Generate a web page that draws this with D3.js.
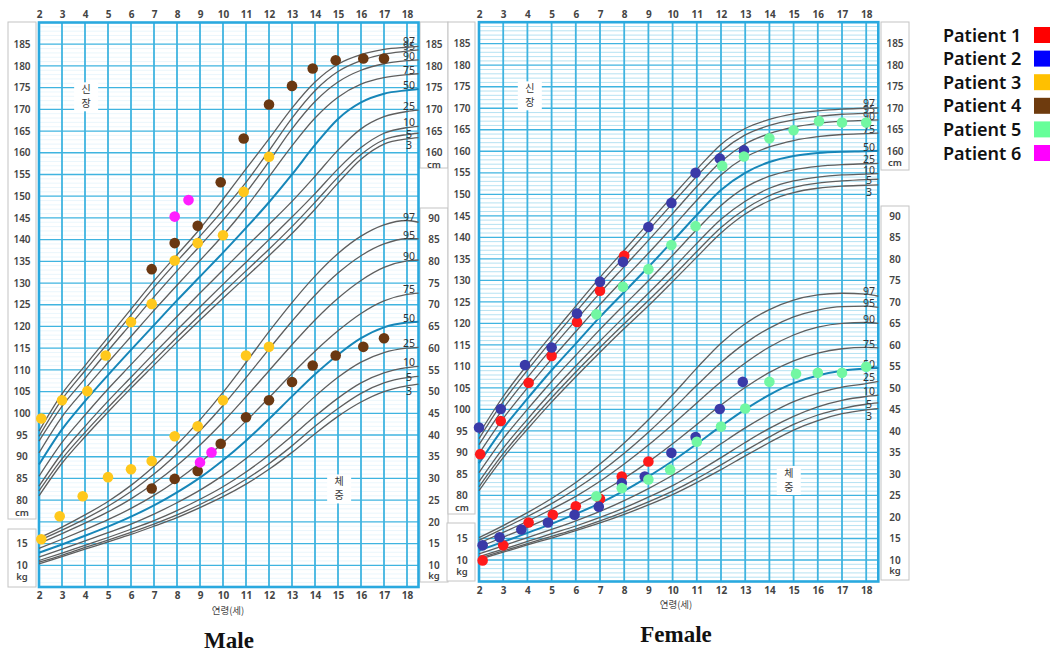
<!DOCTYPE html>
<html><head><meta charset="utf-8">
<script src="https://cdn.jsdelivr.net/npm/d3@7"></script>
<style>body{margin:0;background:#fff}svg{display:block}</style>
</head><body>
<svg id="c" width="1056" height="653"></svg>
<script>
// ---------- DATA ----------
const ages = [2,3,4,5,6,7,8,9,10,11,12,13,14,15,16,17,18,18.5];
const xTicks = [2,3,4,5,6,7,8,9,10,11,12,13,14,15,16,17,18];
const pctNames = ["3","5","10","25","50","75","90","95","97"];

// Male height percentiles (cm)
const mH3  = [81.0,88.5,94.6,100.3,105.8,111.1,116.4,121.5,126.5,131.4,136.3,141.4,147.0,153.0,158.5,162.0,163.2,163.5];
const mH5  = [82.1,89.5,95.6,101.3,106.8,112.2,117.5,122.7,127.8,132.8,137.8,143.0,148.6,154.4,159.6,163.0,164.2,164.5];
const mH10 = [83.2,90.8,97.0,102.8,108.3,113.8,119.2,124.5,129.7,134.8,140.0,145.2,150.6,156.3,161.2,164.5,165.8,166.1];
const mH25 = [85.5,93.3,99.6,105.6,111.2,116.8,122.3,127.7,133.0,138.3,143.5,148.8,154.6,160.6,165.5,168.3,169.5,169.8];
const mH50 = [88.2,96.3,102.8,108.8,114.6,120.3,126.0,131.5,137.0,142.7,148.6,155.0,161.8,167.8,171.6,173.6,174.4,174.7];
const mH75 = [90.9,99.2,105.6,111.7,117.7,123.7,129.5,135.2,141.0,147.4,154.5,161.6,168.0,172.8,175.8,177.3,178.0,178.2];
const mH90 = [93.6,101.6,108.0,114.4,120.6,126.8,132.8,138.6,144.5,150.8,158.0,165.5,171.8,176.3,179.0,180.5,181.2,181.4];
const mH95 = [94.7,103.2,109.8,116.2,122.6,129.0,135.0,140.8,146.8,153.2,160.5,168.0,174.3,178.7,181.2,182.7,183.4,183.7];
const mH97 = [95.9,104.5,111.0,117.5,124.0,130.5,136.5,142.5,149.3,156.3,163.2,170.3,176.3,180.4,182.6,183.8,184.3,184.5];
// Male weight percentiles (kg)
const mW3  = [10.3,12.0,13.7,15.4,17.1,19.0,21.0,23.3,25.8,28.7,32.1,36.0,40.3,44.3,47.6,50.0,51.3,51.7];
const mW5  = [10.7,12.3,14.1,15.8,17.6,19.5,21.6,24.0,26.7,29.8,33.4,37.5,42.0,46.1,49.6,52.0,53.2,53.5];
const mW10 = [11.1,12.8,14.6,16.4,18.3,20.3,22.6,25.2,28.1,31.5,35.4,39.8,44.3,48.5,52.0,54.3,55.5,55.8];
const mW25 = [11.9,13.7,15.6,17.5,19.5,21.8,24.4,27.3,30.7,34.6,39.1,44.0,48.9,53.3,56.8,59.0,60.0,60.2];
const mW50 = [12.9,14.8,16.8,18.9,21.2,23.8,26.8,30.2,34.2,38.7,43.7,48.9,54.0,58.5,62.3,64.8,65.9,66.1];
const mW75 = [13.9,16.0,18.2,20.5,23.1,26.1,29.6,33.6,38.2,43.2,48.6,54.1,59.3,64.0,68.0,70.9,72.4,72.7];
const mW90 = [15.0,17.3,19.7,22.3,25.3,28.9,33.0,37.7,43.0,48.8,54.8,60.8,66.5,71.5,75.6,78.6,80.1,80.3];
const mW95 = [15.7,18.1,20.7,23.6,27.0,31.0,35.7,41.0,46.8,53.2,59.8,66.2,72.2,77.3,81.3,84.0,85.2,85.2];
const mW97 = [16.3,18.8,21.6,24.7,28.4,32.8,37.8,43.5,49.8,56.7,63.8,70.5,76.6,81.8,85.8,88.4,89.4,89.0];
// Female height percentiles (cm)
const fH3  = [81.1,88.8,95.4,101.7,107.6,113.3,118.8,124.1,129.7,135.4,141.0,145.4,148.5,150.4,151.4,151.9,152.1,152.2];
const fH5  = [82.0,89.7,96.4,102.7,108.7,114.4,119.9,125.3,130.9,136.7,142.3,146.6,149.7,151.6,152.6,153.1,153.4,153.5];
const fH10 = [83.2,91.0,97.7,104.1,110.1,115.9,121.5,127.0,132.7,138.6,144.2,148.4,151.4,153.1,154.0,154.5,154.7,154.8];
const fH25 = [85.3,93.2,100.0,106.5,112.6,118.6,124.3,129.9,135.8,141.8,147.4,151.6,154.2,155.7,156.5,156.9,157.1,157.2];
const fH50 = [87.5,95.6,102.5,109.1,115.3,121.5,127.3,133.1,139.1,145.2,151.0,155.0,157.5,158.9,159.6,159.9,160.0,160.1];
const fH75 = [89.7,97.9,105.0,111.7,118.1,124.4,130.4,136.3,142.4,148.6,154.5,158.6,161.0,162.5,163.4,163.9,164.1,164.2];
const fH90 = [91.8,100.2,107.4,114.2,120.7,127.1,133.2,139.3,145.5,151.8,157.6,161.7,164.1,165.6,166.5,167.0,167.2,167.3];
const fH95 = [93.2,101.8,109.1,116.0,122.6,129.2,135.4,141.6,147.9,154.2,159.9,163.8,166.0,167.3,168.1,168.6,168.8,168.9];
const fH97 = [94.3,103.0,110.4,117.3,124.0,130.7,137.0,143.3,149.6,155.8,161.6,165.3,167.4,168.7,169.4,169.8,170.0,170.1];
// Female weight percentiles (kg)
const fW3  = [10.1,11.8,13.5,15.1,16.8,18.6,20.6,22.8,25.2,28.0,31.0,34.2,37.3,40.2,42.4,44.0,44.9,45.2];
const fW5  = [10.4,12.1,13.8,15.5,17.2,19.1,21.2,23.5,26.0,28.9,32.1,35.4,38.6,41.5,43.7,45.2,46.2,46.5];
const fW10 = [10.8,12.5,14.3,16.1,17.9,19.9,22.1,24.6,27.3,30.4,33.8,37.3,40.6,43.4,45.6,47.1,48.0,48.3];
const fW25 = [11.4,13.3,15.2,17.1,19.1,21.3,23.8,26.6,29.7,33.2,37.0,40.7,44.0,46.8,48.8,50.2,51.0,51.5];
const fW50 = [12.2,14.2,16.3,18.4,20.7,23.2,26.1,29.4,33.0,37.0,41.1,45.0,48.4,51.1,52.9,54.0,54.5,54.6];
const fW75 = [13.0,15.3,17.6,20.0,22.6,25.6,29.0,32.8,37.0,41.5,46.0,50.1,53.6,56.3,58.1,59.1,59.4,59.3];
const fW90 = [13.9,16.4,19.0,21.8,24.8,28.3,32.3,36.7,41.5,46.5,51.4,55.8,59.5,62.3,64.1,65.0,65.2,65.0];
const fW95 = [14.6,17.3,20.1,23.1,26.5,30.4,34.8,39.7,45.0,50.6,55.9,60.4,63.9,66.5,68.1,68.9,69.0,68.7];
const fW97 = [15.2,18.0,21.0,24.3,28.0,32.3,37.2,42.6,48.4,54.6,60.4,64.9,68.2,70.4,71.6,72.0,71.8,71.3];

// Patients (age, value)
const p3MaleHeight = [[2.1,98.8],[3.0,103.0],[4.1,105.1],[4.9,113.3],[6.0,121.0],[6.9,125.2],[7.9,135.2],[8.9,139.2],[10.0,141.0],[10.9,151.0],[12.0,159.1]];
const p3MaleWeight = [[2.1,16.0],[2.9,21.3],[3.9,25.9],[5.0,30.3],[6.0,32.1],[6.9,34.0],[7.9,39.7],[8.9,42.0],[10.0,48.0],[11.0,58.3],[12.0,60.3]];
const p4MaleHeight = [[6.9,133.2],[7.9,139.2],[8.9,143.2],[9.9,153.2],[10.9,163.3],[12.0,171.1],[13.0,175.4],[13.9,179.4],[14.9,181.3],[16.1,181.7],[17.0,181.7]];
const p4MaleWeight = [[6.9,27.7],[7.9,29.9],[8.9,31.7],[9.9,38.0],[11.0,44.1],[12.0,48.0],[13.0,52.2],[13.9,56.0],[14.9,58.3],[16.1,60.3],[17.0,62.3]];
const p6MaleHeight = [[7.9,145.3],[8.5,149.1]];
const p6MaleWeight = [[9.0,33.7],[9.5,36.0]];
const p1FemaleHeight = [[2.05,89.6],[2.9,97.3],[4.05,106.2],[5.0,112.4],[6.05,120.3],[7.0,127.6],[8.0,135.7]];
const p1FemaleWeight = [[2.15,9.9],[3.0,13.4],[4.05,18.7],[5.05,20.5],[6.0,22.5],[7.0,24.2],[7.9,29.4],[9.0,32.9]];
const p2FemaleHeight = [[2.0,95.8],[2.9,100.1],[3.9,110.3],[5.0,114.4],[6.05,122.3],[7.0,129.7],[7.95,134.3],[9.0,142.4],[9.95,148.0],[10.95,155.0],[11.95,158.3],[12.95,160.2]];
const p2FemaleWeight = [[2.15,13.4],[2.85,15.3],[3.75,17.1],[4.85,18.7],[5.95,20.5],[6.95,22.4],[7.9,27.9],[8.85,29.4],[9.95,34.9],[10.95,38.6],[11.95,45.1],[12.9,51.4]];
const p5FemaleHeight = [[6.85,122.1],[7.95,128.5],[9.0,132.6],[9.95,138.2],[10.95,142.6],[12.05,156.6],[12.95,158.8],[14.0,163.0],[15.0,164.9],[16.05,167.0],[17.0,166.7],[18.0,166.7]];
const p5FemaleWeight = [[6.85,24.8],[7.9,26.7],[9.0,28.7],[9.9,31.0],[11.0,37.5],[12.0,41.0],[13.0,45.2],[14.0,51.4],[15.1,53.3],[16.0,53.5],[17.0,53.5],[18.0,54.9]];

const legendNames = ["Patient 1","Patient 2","Patient 3","Patient 4","Patient 5","Patient 6"];
const legendColors = ["#ff0000","#0000ff","#ffc000","#6e3b0e","#66ff99","#ff00ff"];
const dotColors = ["#ff1a1a","#3a3aa8","#ffc81c","#6a3812","#72f7a2","#ff1eff"];

// ---------- DRAW ----------
const svg = d3.select("#c");
const WEIGHT_OFFSET = 55; // weight axis 10 kg aligns with height axis 65 cm
const gridBlue = "#3fb4e0";
const numFont = "'Noto Sans', 'DejaVu Sans', sans-serif";
const krFont = "'Noto Sans CJK KR', sans-serif";
const labelShift = {"3": 11, "5": 5, "10": 0, "25": 0, "50": 0, "75": 0, "90": 0, "95": 0, "97": -1};

function chart(c) {
  const g = svg.append("g");
  const x = d3.scaleLinear().domain([2, 18.5]).range(c.xr);
  const y = d3.scaleLinear().domain([60, 190]).range(c.yr);
  const [x0, x1] = c.xr, [yb, yt] = c.yr;

  c.boxes.forEach(b => g.append("rect").attr("x", b[0]).attr("y", b[1]).attr("width", b[2]).attr("height", b[3])
    .attr("fill", "#fff").attr("stroke", "#c4c4c4").attr("stroke-width", 1));

  g.append("rect").attr("x", x0).attr("y", yt).attr("width", x1 - x0).attr("height", yb - yt).attr("fill", "#fff");
  const minor = d3.range(61, 190).filter(v => v % 5 !== 0);
  g.append("g").selectAll("line").data(minor).join("line")
    .attr("x1", x0).attr("x2", x1).attr("y1", d => y(d)).attr("y2", d => y(d))
    .attr("stroke", c.minorColor).attr("stroke-width", c.minorWidth);
  g.append("g").selectAll("line").data(d3.range(65, 190, 5)).join("line")
    .attr("x1", x0).attr("x2", x1).attr("y1", d => y(d)).attr("y2", d => y(d))
    .attr("stroke", gridBlue).attr("stroke-width", 1.3);
  g.append("g").selectAll("line").data(d3.range(3, 19)).join("line")
    .attr("x1", d => x(d)).attr("x2", d => x(d)).attr("y1", yt).attr("y2", yb)
    .attr("stroke", gridBlue).attr("stroke-width", 1.8);
  g.append("rect").attr("x", x0).attr("y", yt).attr("width", x1 - x0).attr("height", yb - yt)
    .attr("fill", "none").attr("stroke", "#2aa9df").attr("stroke-width", 2.6);

  c.kLabels.forEach(k => {
    const cx = x(k.age), cy = y(k.v);
    g.append("rect").attr("x", cx - 12).attr("y", cy - 14).attr("width", 24).attr("height", 29).attr("fill", "#fff");
    g.append("text").attr("x", cx).attr("y", cy - 3).attr("text-anchor", "middle").attr("font-family", krFont)
      .attr("font-size", 10).attr("fill", "#333").text(k.t[0]);
    g.append("text").attr("x", cx).attr("y", cy + 11).attr("text-anchor", "middle").attr("font-family", krFont)
      .attr("font-size", 10).attr("fill", "#333").text(k.t[1]);
  });

  const line = d3.line().x(d => x(d[0])).y(d => y(d[1])).curve(d3.curveMonotoneX);
  const drawSet = (sets, off) => sets.forEach((vals, i) => {
    const pts = ages.map((a, j) => [a, vals[j] + off]);
    const is50 = pctNames[i] === "50";
    g.append("path").attr("d", line(pts)).attr("fill", "none")
      .attr("stroke", is50 ? "#1786b8" : "#5e5e5e").attr("stroke-width", is50 ? 2 : 1.3);
    g.append("text").attr("x", c.pctX).attr("y", y(vals[vals.length - 1] + off) + labelShift[pctNames[i]])
      .attr("text-anchor", "middle").attr("font-family", numFont).attr("font-size", 10.5)
      .attr("fill", "#333").text(pctNames[i]);
  });
  drawSet(c.height, 0);
  drawSet(c.weight, WEIGHT_OFFSET);

  const gt = g.append("g").attr("transform", `translate(0,${c.topY})`).call(d3.axisTop(x).tickValues(xTicks).tickSize(0).tickPadding(0));
  const gbx = g.append("g").attr("transform", `translate(0,${c.botY})`).call(d3.axisBottom(x).tickValues(xTicks).tickSize(0).tickPadding(0));
  [gt, gbx].forEach(a => { a.select(".domain").remove(); a.selectAll("text").attr("font-family", numFont).attr("font-size", 10).attr("font-weight", 700).attr("fill", "#444"); });

  const yLab = (cx, vals, off, unit, unitDy) => {
    const a = g.append("g").attr("transform", `translate(${cx},0)`)
      .call(d3.axisRight(d3.scaleLinear().domain([60,190]).range(c.yr)).tickValues(vals.map(v => v + off)).tickFormat(v => v - off).tickSize(0).tickPadding(0));
    a.select(".domain").remove();
    a.selectAll("text").attr("text-anchor", "middle").attr("font-family", numFont).attr("font-size", 10).attr("font-weight", 600).attr("fill", "#444");
    g.append("text").attr("x", cx).attr("y", y(Math.min(...vals) + off) + unitDy).attr("text-anchor", "middle")
      .attr("font-family", numFont).attr("font-size", 9.5).attr("font-weight", 600).attr("fill", "#444").text(unit);
  };
  yLab(c.leftX, d3.range(80, 186, 5), 0, "cm", 16);
  yLab(c.leftX, [10, 15], WEIGHT_OFFSET, "kg", 15);
  yLab(c.rightX, d3.range(160, 186, 5), 0, "cm", 15);
  yLab(c.rightX, d3.range(10, 91, 5), WEIGHT_OFFSET, "kg", 14);

  g.append("text").attr("x", c.ageLabel[0]).attr("y", c.ageLabel[1]).attr("text-anchor", "middle")
    .attr("font-family", krFont).attr("font-size", 9.5).attr("fill", "#444").text("연령(세)");
  g.append("text").attr("x", c.title[0]).attr("y", c.title[1]).attr("text-anchor", "middle")
    .attr("font-family", "'Liberation Serif', 'Times New Roman', serif").attr("font-weight", 700)
    .attr("font-size", 23).attr("fill", "#111").text(c.title[2]);

  c.patients.forEach(p => {
    g.append("g").selectAll("circle").data(p.data).join("circle")
      .attr("cx", d => x(d[0])).attr("cy", d => y(d[1] + p.off)).attr("r", 5.3)
      .attr("fill", dotColors[p.idx]);
  });
}

chart({
  xr: [39, 418.5], yr: [587, 22.5], minorColor: "#e4f4fb", minorWidth: 0.8,
  boxes: [[8,22,28,497],[8,529,28,58],[420,22,28,146],[420,208,28,374]],
  leftX: 22, rightX: 434, pctX: 409, topY: 18, botY: 592,
  kLabels: [{age: 4.05, v: 173, t: "신장"}, {age: 15.05, v: 82.7, t: "체중"}],
  height: [mH3,mH5,mH10,mH25,mH50,mH75,mH90,mH95,mH97],
  weight: [mW3,mW5,mW10,mW25,mW50,mW75,mW90,mW95,mW97],
  ageLabel: [228, 614], title: [229, 648, "Male"],
  patients: [
    {idx: 2, off: 0, data: p3MaleHeight}, {idx: 2, off: WEIGHT_OFFSET, data: p3MaleWeight},
    {idx: 3, off: 0, data: p4MaleHeight}, {idx: 3, off: WEIGHT_OFFSET, data: p4MaleWeight},
    {idx: 5, off: 0, data: p6MaleHeight}, {idx: 5, off: WEIGHT_OFFSET, data: p6MaleWeight}
  ]
});
chart({
  xr: [479, 878.3], yr: [581.5, 22.2], minorColor: "#a3daef", minorWidth: 0.8,
  boxes: [[448,22,27,492],[447,523,28,58],[881,22,28,148],[881,206,28,374]],
  leftX: 462, rightX: 895, pctX: 869, topY: 18, botY: 587,
  kLabels: [{age: 4.1, v: 173, t: "신장"}, {age: 14.8, v: 83.6, t: "체중"}],
  height: [fH3,fH5,fH10,fH25,fH50,fH75,fH90,fH95,fH97],
  weight: [fW3,fW5,fW10,fW25,fW50,fW75,fW90,fW95,fW97],
  ageLabel: [676, 608], title: [676, 642, "Female"],
  patients: [
    {idx: 0, off: 0, data: p1FemaleHeight}, {idx: 0, off: WEIGHT_OFFSET, data: p1FemaleWeight},
    {idx: 1, off: 0, data: p2FemaleHeight}, {idx: 1, off: WEIGHT_OFFSET, data: p2FemaleWeight},
    {idx: 4, off: 0, data: p5FemaleHeight}, {idx: 4, off: WEIGHT_OFFSET, data: p5FemaleWeight}
  ]
});

const lg = svg.append("g");
const ly = d3.scalePoint().domain(legendNames).range([35, 153]);
lg.selectAll("text").data(legendNames).join("text")
  .attr("x", 943).attr("y", d => ly(d) + 6.5).attr("font-family", numFont).attr("font-weight", 600)
  .attr("font-size", 18).attr("fill", "#111").text(d => d);
lg.selectAll("rect").data(legendNames).join("rect")
  .attr("x", 1034).attr("y", d => ly(d) - 8).attr("width", 16).attr("height", 16)
  .attr("fill", (d, i) => legendColors[i]);
</script>
</body></html>
